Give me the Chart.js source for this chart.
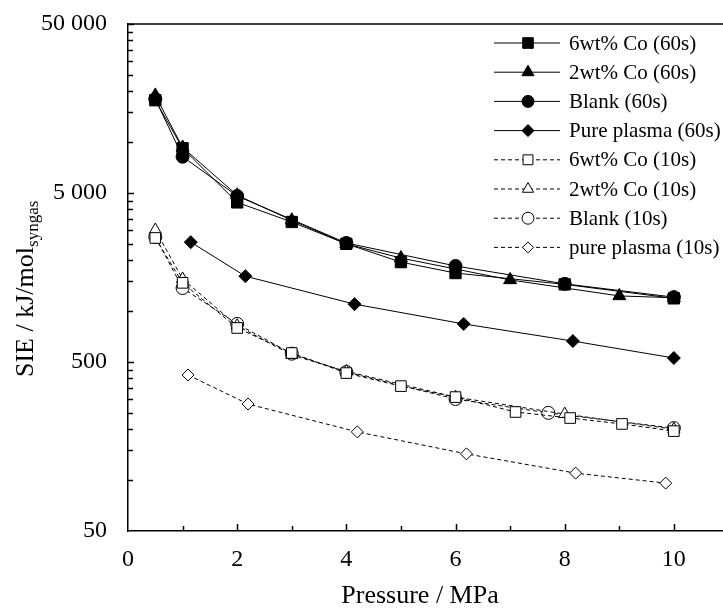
<!DOCTYPE html>
<html>
<head>
<meta charset="utf-8">
<script src="https://cdn.jsdelivr.net/npm/chart.js@4/dist/chart.umd.min.js"></script>
<style>
  body { margin: 0; background: #fff; }
  canvas { display: block; }
</style>
</head>
<body>
<canvas id="chart" width="723" height="609"></canvas>
<script>
// pressure (MPa) and specific input energy (kJ/mol syngas) per run
const co6_60x = [0.5, 1, 2, 3, 4, 5, 6, 8, 10];
const co6_60y = [17700, 9200, 4400, 3370, 2500, 1950, 1680, 1440, 1190];
const co2_60x = [0.5, 1, 2, 3, 4, 5, 7, 9, 10];
const co2_60y = [18900, 9300, 4850, 3450, 2500, 2060, 1530, 1230, 1200];
const blank60x = [0.5, 1, 2, 4, 6, 8, 10];
const blank60y = [18000, 8200, 4800, 2530, 1850, 1450, 1210];
const plasma60x = [1.15, 2.15, 4.15, 6.15, 8.15, 10];
const plasma60y = [2560, 1610, 1100, 840, 665, 528];

const co6_10x = [0.5, 1, 2, 3, 4, 5, 6, 7.1, 8.1, 9.05, 10];
const co6_10y = [2710, 1470, 795, 565, 430, 360, 310, 253, 233, 215, 195];
const co2_10x = [0.5, 1, 2, 3, 4, 6, 8, 10];
const co2_10y = [3020, 1550, 820, 550, 440, 310, 246, 200];
const blank10x = [0.5, 1, 2, 3, 4, 6, 7.7, 10];
const blank10y = [2750, 1370, 840, 560, 436, 302, 250, 203];
const plasma10x = [1.1, 2.2, 4.2, 6.2, 8.2, 9.85];
const plasma10y = [419, 282, 193, 143, 110, 96];

const seriesNames = ["6wt% Co (60s)", "2wt% Co (60s)", "Blank (60s)", "Pure plasma (60s)",
                     "6wt% Co (10s)", "2wt% Co (10s)", "Blank (10s)", "pure plasma (10s)"];

const xTickValues = [0, 2, 4, 6, 8, 10];
const yTickValues = [50, 500, 5000, 50000];
const yTickLabels = ["50", "500", "5 000", "50 000"];

const FONT = "'Liberation Serif', 'Times New Roman', serif";

function pts(xs, ys) {
    return xs.map((x, i) => ({ x: x, y: ys[i] }));
}

function series(label, xs, ys, style, radius, filled, dashed) {
    return {
        label: label,
        data: pts(xs, ys),
        borderColor: "#000",
        borderWidth: 1,
        borderDash: dashed ? [4, 3] : [],
        pointStyle: style,
        pointRadius: radius,
        pointBackgroundColor: filled ? "#000" : "#fff",
        pointBorderColor: "#000",
        pointBorderWidth: 1,
        fill: false,
        tension: 0
    };
}

const datasets = [
    series(seriesNames[0], co6_60x, co6_60y, "rect", 8, true, false),
    series(seriesNames[1], co2_60x, co2_60y, "triangle", 7.5, true, false),
    series(seriesNames[2], blank60x, blank60y, "circle", 6.5, true, false),
    series(seriesNames[3], plasma60x, plasma60y, "rectRot", 6.5, true, false),
    series(seriesNames[4], co6_10x, co6_10y, "rect", 7.5, false, true),
    series(seriesNames[5], co2_10x, co2_10y, "triangle", 7, false, true),
    series(seriesNames[6], blank10x, blank10y, "circle", 6.5, false, true),
    series(seriesNames[7], plasma10x, plasma10y, "rectRot", 6, false, true)
];

function seg(ctx, x1, y1, x2, y2) {
    ctx.beginPath();
    ctx.moveTo(x1, y1);
    ctx.lineTo(x2, y2);
    ctx.stroke();
}

// frame top line, inward ticks, axis titles and the legend box
const extras = {
    id: "extras",
    afterDraw(chart) {
        const ctx = chart.ctx;
        const a = chart.chartArea;
        const xs = chart.scales.x, ys = chart.scales.y;
        ctx.save();
        ctx.strokeStyle = "#000";
        ctx.lineWidth = 1.5;
        seg(ctx, a.left, a.top, chart.width, a.top);

        // x ticks every 1 MPa, longer at labelled ones
        for (let v = 1; v <= 10; v++) {
            const px = Math.round(xs.getPixelForValue(v)) + 0.5;
            seg(ctx, px, a.bottom, px, a.bottom - (v % 2 === 0 ? 7 : 5));
        }
        // y ticks: decades plus 2..9 multiples
        for (let d = 0; d < yTickValues.length; d++) {
            const base = yTickValues[d];
            if (d > 0) {
                const py = Math.round(ys.getPixelForValue(base)) + 0.5;
                seg(ctx, a.left, py, a.left + 6, py);
            }
            if (d === yTickValues.length - 1) break;
            for (let k = 2; k <= 9; k++) {
                const py = Math.round(ys.getPixelForValue(base * k)) + 0.5;
                seg(ctx, a.left, py, a.left + 5, py);
            }
        }

        // axis titles
        ctx.fillStyle = "#000";
        ctx.font = "26px " + FONT;
        ctx.textAlign = "center";
        ctx.textBaseline = "alphabetic";
        ctx.fillText("Pressure / MPa", 420, 603);

        ctx.save();
        ctx.translate(33, 377);
        ctx.rotate(-Math.PI / 2);
        ctx.textAlign = "left";
        const main = "SIE / kJ/mol";
        ctx.font = "26px " + FONT;
        ctx.fillText(main, 0, 0);
        const w = ctx.measureText(main).width;
        ctx.font = "17px " + FONT;
        ctx.fillText("syngas", w, 5);
        ctx.restore();

        // legend
        ctx.font = "21px " + FONT;
        ctx.textAlign = "left";
        ctx.textBaseline = "middle";
        chart.data.datasets.forEach((ds, i) => {
            const y = 43 + i * 29.2;
            ctx.lineWidth = 1;
            ctx.setLineDash(ds.borderDash);
            seg(ctx, 494, y, 560, y);
            ctx.setLineDash([]);
            ctx.fillStyle = ds.pointBackgroundColor;
            ctx.strokeStyle = "#000";
            Chart.helpers.drawPoint(ctx, {
                pointStyle: ds.pointStyle,
                radius: ds.pointRadius - 0.5,
                rotation: 0,
                borderWidth: 1
            }, 528, y);
            ctx.fillStyle = "#000";
            ctx.fillText(ds.label, 569, y + 1);
        });
        ctx.restore();
    }
};

new Chart(document.getElementById("chart").getContext("2d"), {
    type: "line",
    data: { datasets: datasets },
    options: {
        responsive: false,
        animation: false,
        layout: { autoPadding: false, padding: { top: 24, right: 0, left: 0, bottom: 0 } },
        plugins: {
            legend: { display: false },
            tooltip: { enabled: false }
        },
        scales: {
            x: {
                type: "linear",
                min: 0,
                max: 10.9,
                afterFit: s => {
                    s.height = 78;
                    s.paddingLeft = 0;
                    s.paddingRight = 0;
                },
                afterBuildTicks: s => { s.ticks = xTickValues.map(v => ({ value: v })); },
                grid: { display: false, drawTicks: false },
                border: { display: true, color: "#000", width: 1.5 },
                ticks: {
                    color: "#000",
                    padding: 14,
                    maxRotation: 0,
                    font: { family: FONT, size: 24 },
                    callback: v => String(v)
                }
            },
            y: {
                type: "logarithmic",
                min: 50,
                max: 50000,
                afterFit: s => {
                    s.width = 128;
                    s.paddingTop = 0;
                    s.paddingBottom = 0;
                },
                afterBuildTicks: s => { s.ticks = yTickValues.map(v => ({ value: v })); },
                grid: { display: false, drawTicks: false },
                border: { display: true, color: "#000", width: 1.5 },
                ticks: {
                    color: "#000",
                    padding: 21,
                    font: { family: FONT, size: 24 },
                    callback: (v, i) => yTickLabels[i]
                }
            }
        }
    },
    plugins: [extras]
});
</script>
</body>
</html>
